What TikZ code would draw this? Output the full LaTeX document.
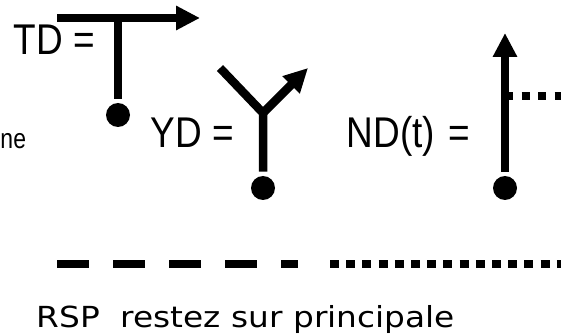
\documentclass[tikz,border=0pt]{standalone}
\usepackage{fontspec}
\setmainfont{DejaVu Sans}
\newfontfamily\labelfont{Liberation Sans}
\usetikzlibrary{arrows.meta}
\usetikzlibrary{positioning}

\begin{document}
\begin{tikzpicture}[x=1pt,y=-1pt,line width=8.5pt,>={Triangle[length=24pt,width=23pt]},
                    dot node/.style={circle,fill=black,inner sep=0pt,minimum size=24pt},
                    big label/.style={anchor=base west,inner sep=0pt,xscale=.86,font=\labelfont\fontsize{43}{43}\selectfont}]
\useasboundingbox (0,0) rectangle (571,334);

\node[big label] (td) at (10,55) {TD =};
\node[big label] (yd) at (147,148) {YD =};
\node[big label] (nd) at (343,148) {ND(t) \kern 4pt=};
\node[anchor=base west,inner sep=0pt,xscale=.82,font=\labelfont\fontsize{28}{28}\selectfont] (cut) at (-3,149) {ne};
\node[anchor=base west,inner sep=0pt,xscale=1.13,font=\fontsize{29}{29}\selectfont] (rsp) at (32,327) {RSP\ \ restez sur principale};

\node[dot node] (tdot) at (118,115) {};
\node[dot node] (ydot) at (263,188) {};
\node[dot node] (ndot) at (505,188) {};

\coordinate (t1) at (57,18);
\coordinate (t2) at (118,18);
\coordinate (t3) at (200,18);
\coordinate (y0) at (263,113);
\coordinate (y1) at (220,68);
\coordinate (y2) at (308,68);
\coordinate (n1) at (505,33);
\coordinate (n2) at (505,96);
\coordinate (n3) at (561,96);
\coordinate (d1) at (57,264);
\coordinate (d2) at (298,264);
\coordinate (d3) at (330,264);
\coordinate (d4) at (561,264);

\draw[->] (t1) -- (t3);
\draw (t2) -- (tdot);
\draw (ydot) -- (y0) -- (y1);
\draw[->] (y0) -- (y2);
\draw[->] (ndot) -- (n1);
\draw[dash pattern=on 8pt off 8.5pt] (n2) -- (n3);
\draw[dash pattern=on 31.5pt off 24.6pt] (d1) -- (d2);
\draw[dash pattern=on 9pt off 7.2pt] (d3) -- (d4);
\end{tikzpicture}
\end{document}
